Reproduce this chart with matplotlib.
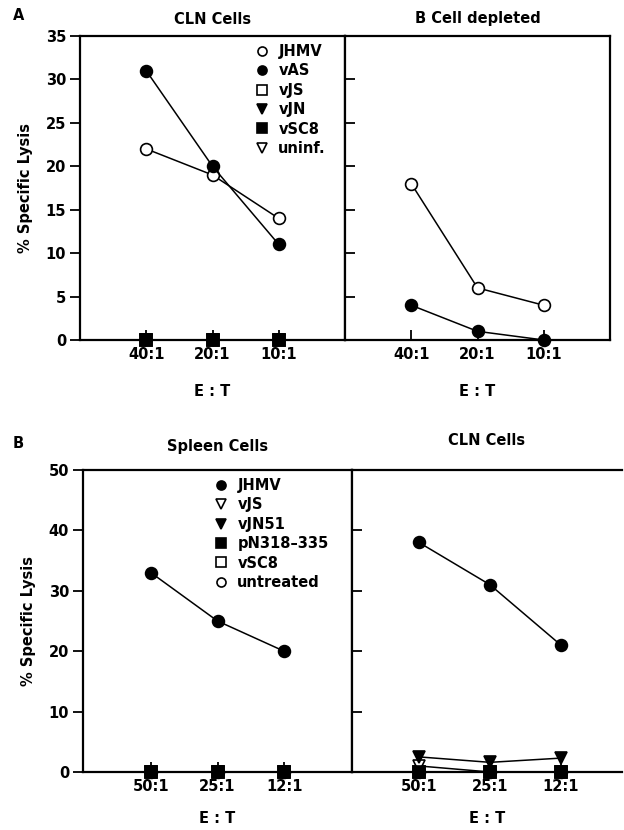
import matplotlib
matplotlib.use("Agg")
import matplotlib.pyplot as plt
from matplotlib.lines import Line2D

plt.rcParams['font.family'] = ['DejaVu Sans']
plt.rcParams['font.weight'] = 'bold'

W, H = 624, 830

# ---------------- data ----------------
ratios_a = ["40:1", "20:1", "10:1"]
ratios_b = ["50:1", "25:1", "12:1"]

# Panel A, CLN cells
a_cln_jhmv = [22, 19, 14]
a_cln_vas = [31, 20, 11]
a_cln_vjs = [0, 0, 0]
a_cln_vjn = [0, 0, 0]
a_cln_vsc8 = [0, 0, 0]
a_cln_uninf = [0, 0, 0]

# Panel A, B cell depleted
a_bdep_jhmv = [18, 6, 4]
a_bdep_vas = [4, 1, 0]

# Panel B, spleen cells
b_spl_jhmv = [33, 25, 20]
b_spl_vjs = [0, 0, 0]
b_spl_vjn51 = [0, 0, 0]
b_spl_pn = [0, 0, 0]
b_spl_vsc8 = [0, 0, 0]
b_spl_untr = [0, 0, 0]

# Panel B, CLN cells
b_cln_jhmv = [38, 31, 21]
b_cln_vjs = [1, 0, 0]
b_cln_vjn51 = [2.5, 1.6, 2.3]
b_cln_pn = [0, 0, 0]
b_cln_vsc8 = [0, 0, 0]
b_cln_untr = [0, 0, 0]

a_labels = ["JHMV", "vAS", "vJS", "vJN", "vSC8", "uninf."]
b_labels = ["JHMV", "vJS", "vJN51", "pN318\u2013335", "vSC8", "untreated"]

# styles: (marker, filled)
a_styles = [("o", False), ("o", True), ("s", False), ("v", True), ("s", True), ("v", False)]
b_styles = [("o", True), ("v", False), ("v", True), ("s", True), ("s", False), ("o", False)]

FS = 10.5
MS = 8.5
LW = 1.1

fig = plt.figure(figsize=(W / 100, H / 100), dpi=100)


def ax_px(l, r, t, b):
    return fig.add_axes([l / W, (H - b) / H, (r - l) / W, (b - t) / H])


def draw(ax, x, y, style, zorder=3):
    m, filled = style
    ax.plot(x, y, color="black", lw=LW, marker=m, ms=MS,
            markerfacecolor="black" if filled else "white",
            markeredgecolor="black", markeredgewidth=1.2,
            clip_on=False, zorder=zorder)


def style_ax(ax, xlim, ylim, yticks, ylabels_on, yt_dir, xticklabels):
    ax.set_xlim(*xlim)
    ax.set_ylim(*ylim)
    ax.set_xticks([1, 2, 3])
    ax.set_xticklabels(xticklabels, fontsize=FS, fontweight='bold')
    ax.set_yticks(yticks)
    if ylabels_on:
        ax.set_yticklabels([str(v) for v in yticks], fontsize=FS, fontweight='bold')
    else:
        ax.set_yticklabels([])
    ax.tick_params(axis='y', direction=yt_dir, length=7, width=1.3, pad=3)
    ax.tick_params(axis='x', direction='in', length=7, width=1.3, pad=5)
    for s in ax.spines.values():
        s.set_linewidth(1.6)


x = [1, 2, 3]

# ---------------- Panel A ----------------
ax1 = ax_px(80, 345, 36, 340)
ax2 = ax_px(345, 610, 36, 340)

a_series = [a_cln_jhmv, a_cln_vas, a_cln_vjs, a_cln_vjn, a_cln_vsc8, a_cln_uninf]
order = [5, 2, 4, 3, 0, 1]
for i in order:
    draw(ax1, x, a_series[i], a_styles[i])
draw(ax2, x, a_bdep_jhmv, a_styles[0])
draw(ax2, x, a_bdep_vas, a_styles[1])

style_ax(ax1, (0, 4), (0, 35), list(range(0, 36, 5)), True, 'out', ratios_a)
style_ax(ax2, (0, 4), (0, 35), list(range(0, 36, 5)), False, 'in', ratios_a)
ax1.set_ylabel("% Specific Lysis", fontsize=FS, fontweight='bold', labelpad=9)
ax1.set_xlabel("E : T", fontsize=FS, fontweight='bold', labelpad=16)
ax2.set_xlabel("E : T", fontsize=FS, fontweight='bold', labelpad=16)
ax1.set_title("CLN Cells", fontsize=FS, fontweight='bold', pad=9)
ax2.set_title("B Cell depleted", fontsize=FS, fontweight='bold', pad=9)
fig.text(13 / W, 1 - 16 / H, "A", fontsize=FS, fontweight='bold', va='center', ha='left')

handles_a = [Line2D([], [], ls='none', marker=m, ms=6.5, color='black',
                    markerfacecolor='black' if f else 'white', markeredgewidth=1.2)
             for (m, f) in a_styles]
fig.legend(handles_a, a_labels, loc='upper left', bbox_to_anchor=(255 / W, 1 - 44 / H),
           frameon=False, handlelength=1.0, handletextpad=0.6,
           labelspacing=0.3, borderpad=0, borderaxespad=0,
           prop={'weight': 'bold', 'size': FS})

# ---------------- Panel B ----------------
ax3 = ax_px(83, 352, 470, 772)
ax4 = ax_px(352, 622, 470, 772)

b_spl = [b_spl_jhmv, b_spl_vjs, b_spl_vjn51, b_spl_pn, b_spl_vsc8, b_spl_untr]
b_cln = [b_cln_jhmv, b_cln_vjs, b_cln_vjn51, b_cln_pn, b_cln_vsc8, b_cln_untr]
order_b = [5, 4, 1, 3, 2, 0]
for i in order_b:
    draw(ax3, x, b_spl[i], b_styles[i])
    draw(ax4, x, b_cln[i], b_styles[i])

style_ax(ax3, (-0.02, 4.02), (0, 50), list(range(0, 51, 10)), True, 'out', ratios_b)
style_ax(ax4, (0.056, 3.86), (0, 50), list(range(0, 51, 10)), False, 'in', ratios_b)
ax4.spines['right'].set_visible(False)
ax3.set_ylabel("% Specific Lysis", fontsize=FS, fontweight='bold', labelpad=9)
ax3.set_xlabel("E : T", fontsize=FS, fontweight='bold', labelpad=12)
ax4.set_xlabel("E : T", fontsize=FS, fontweight='bold', labelpad=12)
ax3.set_title("Spleen Cells", fontsize=FS, fontweight='bold', pad=14)
ax4.set_title("CLN Cells", fontsize=FS, fontweight='bold', pad=18)
fig.text(13 / W, 1 - 443 / H, "B", fontsize=FS, fontweight='bold', va='center', ha='left')

handles_b = [Line2D([], [], ls='none', marker=m, ms=6.5, color='black',
                    markerfacecolor='black' if f else 'white', markeredgewidth=1.2)
             for (m, f) in b_styles]
fig.legend(handles_b, b_labels, loc='upper left', bbox_to_anchor=(214 / W, 1 - 478 / H),
           frameon=False, handlelength=1.0, handletextpad=0.6,
           labelspacing=0.3, borderpad=0, borderaxespad=0,
           prop={'weight': 'bold', 'size': FS})

fig.savefig("out.png", dpi=100)
